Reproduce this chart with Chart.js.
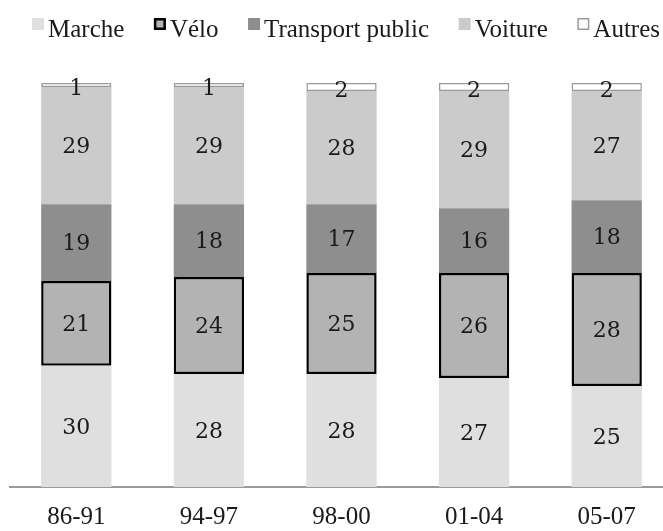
<!DOCTYPE html>
<html>
<head>
<meta charset="utf-8">
<script src="https://cdn.jsdelivr.net/npm/chart.js@4.4.1/dist/chart.umd.min.js"></script>
<style>
  html, body { margin: 0; padding: 0; background: #fff; overflow: hidden; }
  #wrap { width: 673px; height: 531px; position: relative; }
</style>
</head>
<body>
<div id="wrap"><canvas id="chart"></canvas></div>
<script>
// Periods (x categories)
const periods = ["86-91", "94-97", "98-00", "01-04", "05-07"];

// Modal share per mode, %
const marche = [30, 28, 28, 27, 25];
const velo = [21, 24, 25, 26, 28];
const transportPublic = [19, 18, 17, 16, 18];
const voiture = [29, 29, 28, 29, 27];
const autres = [1, 1, 2, 2, 2];

const seriesNames = ["Marche", "Vélo", "Transport public", "Voiture", "Autres"];

const serifFont = "'Liberation Serif', 'Times New Roman', serif";

function makeSet(label, data, fill, border, borderWidth) {
  return {
    label: label,
    data: data,
    backgroundColor: fill,
    borderColor: border,
    borderWidth: borderWidth,
    borderSkipped: false,
    categoryPercentage: 1,
    barPercentage: 0.53
  };
}

// value labels in the middle of each segment
const valueLabels = {
  id: "valueLabels",
  afterDatasetsDraw(chart) {
    const ctx = chart.ctx;
    ctx.save();
    ctx.font = "22px 'DejaVu Serif', serif";
    ctx.fillStyle = "#1a1a1a";
    ctx.textAlign = "center";
    ctx.textBaseline = "middle";
    chart.data.datasets.forEach((ds, i) => {
      chart.getDatasetMeta(i).data.forEach((bar, j) => {
        const yMid = (bar.y + bar.base) / 2;
        const shift = ds.data[j] < 5 ? 4 : 2;
        ctx.fillText(String(ds.data[j]), bar.x, yMid + shift);
      });
    });
    ctx.restore();
  }
};

// legend across the top, small square then name
const topLegend = {
  id: "topLegend",
  afterDraw(chart) {
    const ctx = chart.ctx;
    ctx.save();
    ctx.font = "25px " + serifFont;
    ctx.textBaseline = "alphabetic";
    const box = 12, gapText = 4;
    const left = 32, right = 660;
    const widths = chart.data.datasets.map(ds => ctx.measureText(ds.label).width);
    const used = widths.reduce((a, w) => a + box + gapText + w, 0);
    const gapItem = (right - left - used) / (widths.length - 1);
    let x = left;
    chart.data.datasets.forEach((ds, i) => {
      const bw = ds.borderWidth;
      ctx.fillStyle = ds.backgroundColor;
      ctx.fillRect(x, 18, box, box);
      if (bw > 0) {
        ctx.strokeStyle = ds.borderColor;
        ctx.lineWidth = bw;
        ctx.strokeRect(x + bw / 2, 18 + bw / 2, box - bw, box - bw);
      }
      ctx.fillStyle = "#1a1a1a";
      ctx.fillText(ds.label, x + box + gapText, 37);
      x += box + gapText + widths[i] + gapItem;
    });
    ctx.restore();
  }
};

new Chart(document.getElementById("chart"), {
  type: "bar",
  data: {
    labels: periods,
    datasets: [
      makeSet(seriesNames[0], marche, "#dfdfdf", "#dfdfdf", 0),
      makeSet(seriesNames[1], velo, "#b3b3b3", "#000000", 2.5),
      makeSet(seriesNames[2], transportPublic, "#8e8e8e", "#8e8e8e", 0),
      makeSet(seriesNames[3], voiture, "#cbcbcb", "#cbcbcb", 0),
      makeSet(seriesNames[4], autres, "#ffffff", "#9a9a9a", 1.5)
    ]
  },
  options: {
    responsive: true,
    maintainAspectRatio: false,
    animation: false,
    layout: { padding: { top: 83, left: 10, right: 0, bottom: 0 } },
    plugins: {
      legend: { display: false },
      tooltip: { enabled: false }
    },
    scales: {
      x: {
        stacked: true,
        grid: { display: false, drawTicks: false },
        border: { display: true, color: "#9a9a9a", width: 2 },
        ticks: {
          color: "#1a1a1a",
          font: { family: serifFont, size: 25 },
          padding: 15,
          maxRotation: 0
        },
        afterFit(scale) { scale.height = 44; }
      },
      y: {
        stacked: true,
        display: false,
        min: 0,
        max: 100
      }
    }
  },
  plugins: [valueLabels, topLegend]
});
</script>
</body>
</html>
